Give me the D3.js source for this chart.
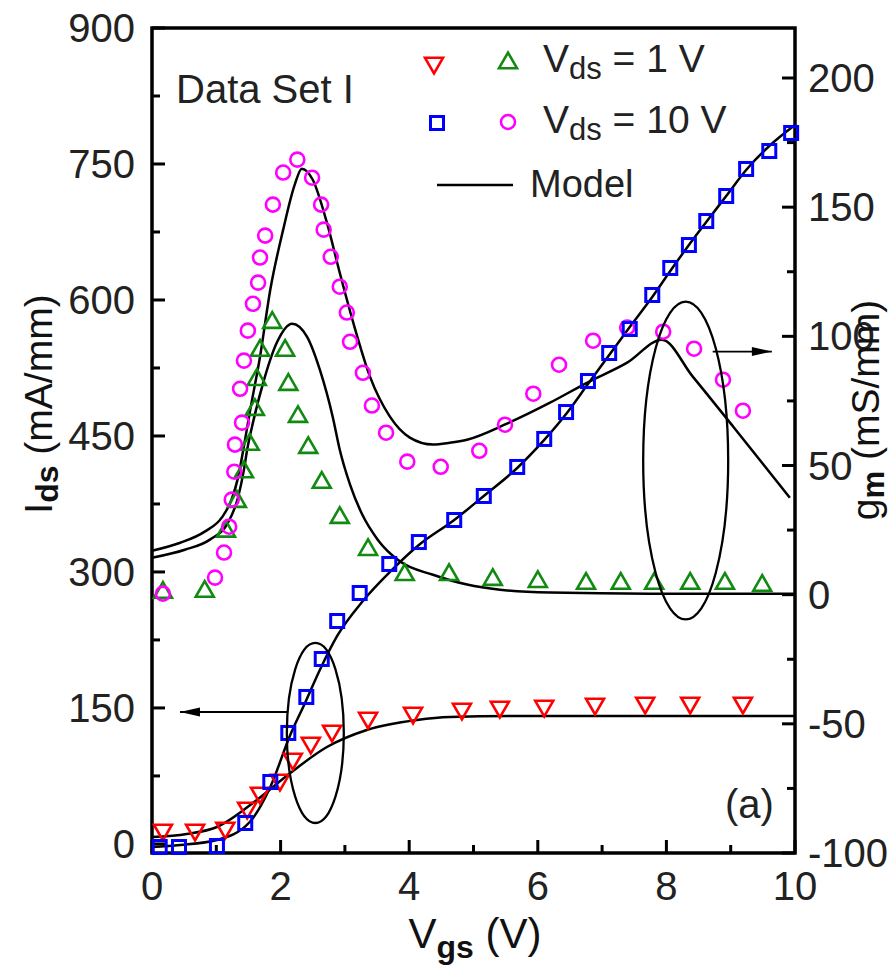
<!DOCTYPE html>
<html><head><meta charset="utf-8">
<script src="https://cdn.jsdelivr.net/npm/d3@7"></script>
<style>
body{margin:0;background:#fff;}
svg{display:block;font-family:"Liberation Sans",Arial,sans-serif;}
</style></head>
<body><svg id="c" width="893" height="972"></svg>
<script>
// ---------- data ----------
const xTicks = [0,2,4,6,8,10];
const xMinor = [1,3,5,7,9];
const leftTicks = [0,150,300,450,600,750,900];
const leftMinor = [75,225,375,525,675,825];
const rightTicks = [-100,-50,0,50,100,150,200];
const rightMinor = [-75,-25,25,75,125,175];

// Ids, Vds = 1 V (red down-triangles)  [Vgs, Ids]
const ids1 = [[0.17,15.4],[0.67,15.4],[1.14,17.6],[1.48,39.6],[1.68,56.2],[1.99,70.5],[2.19,93.7],[2.47,111.3],[2.80,124.6],[3.36,138.9],[4.06,144.4],[4.82,148.8],[5.41,151.0],[6.10,152.1],[6.89,154.4],[7.67,155.5],[8.37,155.5],[9.19,155.5]];
// Ids, Vds = 10 V (blue squares)
const ids10 = [[0.12,-3.4],[0.42,-3.4],[1.01,-2.3],[1.45,23.1],[1.84,68.3],[2.12,122.4],[2.40,162.1],[2.64,204.0],[2.88,245.9],[3.23,276.8],[3.69,308.8],[4.15,333.0],[4.70,357.3],[5.16,383.8],[5.68,415.8],[6.10,446.7],[6.44,476.4],[6.78,510.6],[7.11,541.5],[7.43,568.0],[7.78,605.5],[8.06,635.3],[8.35,660.6],[8.62,687.1],[8.93,714.7],[9.24,744.5],[9.60,764.3],[9.94,784.2]];
// gm, Vds = 1 V (green triangles)  [Vgs, gm]
const gm1 = [[0.17,0.8],[0.82,1.2],[1.15,24.5],[1.32,36.0],[1.43,47.5],[1.52,58.1],[1.60,71.6],[1.63,83.2],[1.68,94.5],[1.87,105.3],[2.07,94.5],[2.12,81.3],[2.27,68.9],[2.43,56.9],[2.64,43.4],[2.92,29.8],[3.36,17.4],[3.93,7.7],[4.62,7.7],[5.30,5.8],[6.00,5.0],[6.75,4.3],[7.29,4.3],[7.81,4.3],[8.37,4.3],[8.91,4.3],[9.49,3.5]];
// gm, Vds = 10 V (magenta circles)
const gm10 = [[0.17,0.4],[0.98,6.6],[1.12,16.3],[1.20,26.3],[1.24,36.8],[1.28,47.6],[1.29,58.1],[1.40,66.6],[1.37,79.7],[1.43,90.6],[1.49,102.2],[1.57,112.6],[1.65,120.8],[1.68,130.5],[1.76,139.0],[1.88,151.0],[2.04,163.4],[2.26,168.4],[2.49,161.4],[2.63,151.0],[2.67,141.3],[2.78,130.8],[2.92,119.2],[3.03,109.2],[3.08,97.9],[3.28,85.9],[3.42,73.2],[3.64,62.7],[3.97,51.5],[4.49,49.5],[5.09,55.7],[5.49,65.8],[5.93,77.8],[6.33,89.0],[6.86,98.3],[7.39,103.4],[7.95,101.8],[8.43,95.2],[8.88,83.2],[9.19,71.2]];

// Model curves
const modelIds10 = [[0,-3.4],[0.44,-1.2],[1.01,4.3],[1.52,24.2],[1.84,62.8],[2.15,120.2],[2.38,155.5],[2.61,191.9],[2.88,229.4],[3.28,268.0],[3.70,300.0],[4.15,329.7],[4.70,357.3],[5.16,383.8],[5.68,414.7],[6.10,445.6],[6.44,474.2],[6.78,507.3],[7.11,539.3],[7.43,570.2],[7.78,603.3],[8.06,632.0],[8.35,660.6],[8.62,686.0],[8.93,714.7],[9.24,743.4],[9.60,769.8],[10,793.0]];
const modelIds1 = [[0,7.6],[0.54,11.0],[1.01,18.7],[1.63,48.5],[2.15,78.2],[2.72,106.9],[3.34,125.7],[4.12,136.7],[4.63,140.0],[5.72,141.1],[7.74,141.1],[10,141.1]];
const modelGm10 = [[0,17.0],[0.44,20.1],[0.82,24.4],[1.09,30.0],[1.24,37.0],[1.34,45.5],[1.42,56.1],[1.52,70.5],[1.68,92.1],[1.84,118.1],[2.04,141.3],[2.22,158.7],[2.33,164.9],[2.50,160.6],[2.72,144.0],[2.92,124.6],[3.13,105.3],[3.39,84.4],[3.70,68.9],[4.01,60.8],[4.37,58.1],[4.63,58.8],[4.90,60.0],[5.52,66.2],[6.19,74.3],[6.77,82.1],[7.39,89.8],[7.93,98.7],[8.41,84.4],[9.04,65.0],[9.92,37.5]];
const modelGm1 = [[0,14.3],[0.51,17.4],[0.90,21.3],[1.18,27.8],[1.34,37.8],[1.43,48.4],[1.48,56.1],[1.57,66.6],[1.73,82.1],[1.94,97.5],[2.18,104.9],[2.41,99.9],[2.61,87.1],[2.81,68.9],[2.92,56.1],[3.08,42.6],[3.27,31.0],[3.51,21.3],[3.86,12.8],[4.37,7.7],[4.90,3.9],[5.41,1.9],[6.19,0.8],[7.74,0.4],[10,0.4]];

// annotations: ellipses [cx, cy, rx, ry] in data units, arrows [x1,x2,y]
const ellipseIds = [2.54,122.4,0.443,99.3];
const ellipseGm = [8.30,51.9,0.661,61.5];
const arrowIds = [2.10,0.435,145.5];
const arrowGm = [8.72,9.64,94.1];

// ---------- layout ----------
const svg = d3.select("#c");
const L=152, R=795, T=28, B=853;
const x = d3.scaleLinear().domain([0,10]).range([L,R]);
const yL = d3.scaleLinear().domain([-10,900]).range([B,T]);
const yR = d3.scaleLinear().domain([-100,200]).range([B,78]);

const FS = 40;
const RED="#ff0000", GREEN="#118a11", BLUE="#0000ff", MAG="#ff00ff";

// frame
svg.append("rect").attr("x",L).attr("y",T).attr("width",R-L).attr("height",B-T)
  .attr("fill","none").attr("stroke","#000").attr("stroke-width",3.5);

// ticks (inward)
const tk = svg.append("g").attr("stroke","#000").attr("stroke-width",3);
xTicks.forEach(v=>tk.append("line").attr("x1",x(v)).attr("x2",x(v)).attr("y1",B).attr("y2",B-13));
xMinor.forEach(v=>tk.append("line").attr("x1",x(v)).attr("x2",x(v)).attr("y1",B).attr("y2",B-8));
leftTicks.forEach(v=>tk.append("line").attr("x1",L).attr("x2",L+13).attr("y1",yL(v)).attr("y2",yL(v)));
leftMinor.forEach(v=>tk.append("line").attr("x1",L).attr("x2",L+8).attr("y1",yL(v)).attr("y2",yL(v)));
rightTicks.forEach(v=>tk.append("line").attr("x1",R).attr("x2",R-13).attr("y1",yR(v)).attr("y2",yR(v)));
rightMinor.forEach(v=>tk.append("line").attr("x1",R).attr("x2",R-8).attr("y1",yR(v)).attr("y2",yR(v)));

// tick labels
const lab = svg.append("g").attr("font-size",FS).attr("fill","#222");
xTicks.forEach(v=>lab.append("text").attr("x",x(v)).attr("y",B+47).attr("text-anchor","middle").text(v));
leftTicks.forEach(v=>lab.append("text").attr("x",135).attr("y",yL(v)).attr("dy","0.35em").attr("text-anchor","end").text(v));
rightTicks.forEach(v=>lab.append("text").attr("x",808).attr("y",yR(v)).attr("dy","0.35em").attr("text-anchor","start").text(v));

// axis titles
const xt = svg.append("text").attr("x",475).attr("y",948).attr("text-anchor","middle").attr("font-size",42).attr("fill","#111");
xt.append("tspan").text("V");
xt.append("tspan").attr("font-size",32).attr("font-weight","bold").attr("dy",10).text("gs");
xt.append("tspan").attr("dy",-10).text(" (V)");

const yt = svg.append("text").attr("transform","translate(52,404) rotate(-90)").attr("text-anchor","middle").attr("font-size",39).attr("fill","#111");
yt.append("tspan").text("I");
yt.append("tspan").attr("font-size",32).attr("font-weight","bold").attr("dy",6).text("ds");
yt.append("tspan").attr("dy",-6).text(" (mA/mm)");

const yrt = svg.append("text").attr("transform","translate(879,410) rotate(-90)").attr("text-anchor","middle").attr("font-size",39).attr("fill","#111");
yrt.append("tspan").text("g");
yrt.append("tspan").attr("font-size",31).attr("font-weight","bold").attr("dy",5).text("m");
yrt.append("tspan").attr("dy",-5).text(" (mS/mm)");

// model curves
const lineL = d3.line().x(d=>x(d[0])).y(d=>yL(d[1])).curve(d3.curveMonotoneX);
const lineR = d3.line().x(d=>x(d[0])).y(d=>yR(d[1])).curve(d3.curveMonotoneX);
const mg = svg.append("g").attr("fill","none").attr("stroke","#000").attr("stroke-width",2.5);
mg.append("path").attr("d",lineL(modelIds10));
mg.append("path").attr("d",lineL(modelIds1));
mg.append("path").attr("d",lineR(modelGm10));
mg.append("path").attr("d",lineR(modelGm1));

// markers
function tri(cx,cy,s,down){
  const h=s*0.87;
  return down ? `M${cx-s/2},${cy-h/3}L${cx+s/2},${cy-h/3}L${cx},${cy+2*h/3}Z`
              : `M${cx-s/2},${cy+h/3}L${cx+s/2},${cy+h/3}L${cx},${cy-2*h/3}Z`;
}
const pts = svg.append("g").attr("fill","none").attr("stroke-width",2.6);
pts.selectAll(".g1").data(gm1).enter().append("path").attr("stroke",GREEN)
  .attr("d",d=>tri(x(d[0]),yR(d[1]),18,false));
pts.selectAll(".g10").data(gm10).enter().append("circle").attr("stroke",MAG)
  .attr("cx",d=>x(d[0])).attr("cy",d=>yR(d[1])).attr("r",7);
pts.selectAll(".i1").data(ids1).enter().append("path").attr("stroke",RED)
  .attr("d",d=>tri(x(d[0]),yL(d[1]),18,true));
pts.selectAll(".i10").data(ids10).enter().append("rect").attr("stroke",BLUE).attr("stroke-width",3)
  .attr("x",d=>x(d[0])-6.5).attr("y",d=>yL(d[1])-6.5).attr("width",13).attr("height",13);

// ellipses and arrows
const an = svg.append("g").attr("fill","none").attr("stroke","#000").attr("stroke-width",2.3);
an.append("ellipse").attr("cx",x(ellipseIds[0])).attr("cy",yL(ellipseIds[1]))
  .attr("rx",x(ellipseIds[2])-x(0)).attr("ry",yL(0)-yL(ellipseIds[3]));
an.append("ellipse").attr("cx",x(ellipseGm[0])).attr("cy",yR(ellipseGm[1]))
  .attr("rx",x(ellipseGm[2])-x(0)).attr("ry",yR(0)-yR(ellipseGm[3]));
function arrow(x1,x2,y){
  an.append("line").attr("x1",x1).attr("x2",x2).attr("y1",y).attr("y2",y).attr("stroke-width",1.8);
  const dir = x2>x1?1:-1;
  svg.append("path").attr("fill","#000")
    .attr("d",`M${x2},${y}L${x2-dir*20},${y-4.5}L${x2-dir*20},${y+4.5}Z`);
}
arrow(x(arrowIds[0]),x(arrowIds[1]),yL(arrowIds[2]));
arrow(x(arrowGm[0]),x(arrowGm[1]),yR(arrowGm[2]));

// text annotations
svg.append("text").attr("x",176).attr("y",103).attr("font-size",FS).attr("fill","#222").text("Data Set I");
svg.append("text").attr("x",725).attr("y",818).attr("font-size",FS).attr("fill","#222").text("(a)");

// legend
const lg = svg.append("g");
lg.append("path").attr("fill","none").attr("stroke",RED).attr("stroke-width",2.6).attr("d",tri(434,63,18,true));
lg.append("path").attr("fill","none").attr("stroke",GREEN).attr("stroke-width",2.6).attr("d",tri(508,63,18,false));
lg.append("rect").attr("fill","none").attr("stroke",BLUE).attr("stroke-width",3).attr("x",437-6.5).attr("y",123-6.5).attr("width",13).attr("height",13);
lg.append("circle").attr("fill","none").attr("stroke",MAG).attr("stroke-width",2.6).attr("cx",508).attr("cy",122).attr("r",7);
lg.append("line").attr("stroke","#000").attr("stroke-width",2.5).attr("x1",437).attr("x2",513).attr("y1",185).attr("y2",185);
function legText(yb, rest){
  const t = lg.append("text").attr("x",543).attr("y",yb).attr("font-size",39).attr("fill","#222");
  t.append("tspan").text("V");
  t.append("tspan").attr("font-size",31).attr("dy",7).text("ds");
  t.append("tspan").attr("dy",-7).text(rest);
}
legText(72," = 1 V");
legText(133," = 10 V");
lg.append("text").attr("x",530).attr("y",197).attr("font-size",38).attr("fill","#222").text("Model");
</script></body></html>
